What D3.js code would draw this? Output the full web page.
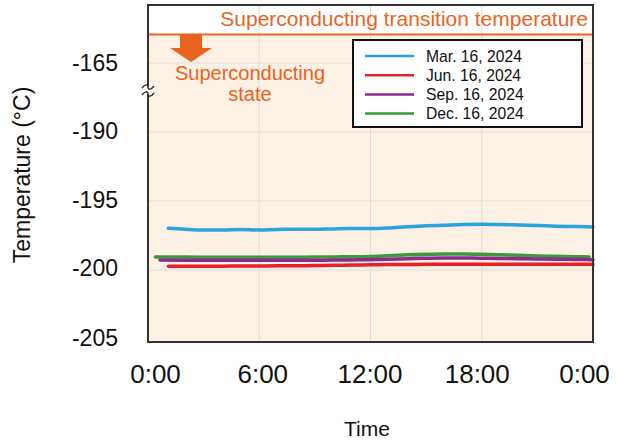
<!DOCTYPE html>
<html><head><meta charset="utf-8">
<script src="https://cdn.jsdelivr.net/npm/d3@7"></script>
<style>
html,body{margin:0;padding:0;background:#fff;}
text{font-family:"Liberation Sans",Arial,sans-serif;}
</style></head>
<body><svg id="c" width="619" height="441"></svg>
<script>
// ---- data ----
const xTickValues = [0, 6, 12, 18, 24];
const xTickLabels = ["0:00", "6:00", "12:00", "18:00", "0:00"];
const yTickValues = [-205, -200, -195, -190, -165];
const transitionTemp = -154.7;
const seriesNames = ["Mar. 16, 2024", "Jun. 16, 2024", "Sep. 16, 2024", "Dec. 16, 2024"];
const seriesColors = ["#2aa3de", "#e62129", "#8c2b8e", "#3a9a3c"];

const hoursMar = [1.1, 2, 3, 4, 5, 6, 7, 8, 9, 10, 11, 12, 13, 14, 15, 16, 17, 18, 19, 20, 21, 22, 23, 24];
const tempMar  = [-196.98, -197.05, -197.1, -197.1, -197.06, -197.1, -197.06, -197.05, -197.05, -197.02, -197.0, -197.0, -196.95, -196.86, -196.8, -196.75, -196.7, -196.68, -196.7, -196.74, -196.78, -196.83, -196.85, -196.88];

const hoursJun = [1.1, 2, 3, 4, 5, 6, 7, 8, 9, 10, 11, 12, 13, 14, 15, 16, 17, 18, 19, 20, 21, 22, 23, 24];
const tempJun  = [-199.72, -199.72, -199.72, -199.72, -199.71, -199.71, -199.7, -199.69, -199.68, -199.66, -199.64, -199.62, -199.6, -199.6, -199.59, -199.58, -199.58, -199.58, -199.58, -199.58, -199.58, -199.58, -199.58, -199.58];

const hoursSep = [0.65, 2, 3, 4, 5, 6, 7, 8, 9, 10, 11, 12, 13, 14, 15, 16, 17, 18, 19, 20, 21, 22, 23, 24];
const tempSep  = [-199.28, -199.29, -199.3, -199.3, -199.3, -199.3, -199.3, -199.3, -199.29, -199.28, -199.27, -199.25, -199.22, -199.18, -199.15, -199.13, -199.13, -199.14, -199.16, -199.18, -199.2, -199.22, -199.24, -199.25];

const hoursDec = [0.4, 2, 3, 4, 5, 6, 7, 8, 9, 10, 11, 12, 13, 14, 15, 16, 17, 18, 19, 20, 21, 22, 23, 23.8];
const tempDec  = [-199.05, -199.06, -199.07, -199.07, -199.07, -199.07, -199.07, -199.07, -199.06, -199.05, -199.04, -199.02, -198.97, -198.9, -198.86, -198.84, -198.84, -198.86, -198.9, -198.94, -198.98, -199.01, -199.04, -199.05];

const seriesHours = [hoursMar, hoursJun, hoursSep, hoursDec];
const seriesTemps = [tempMar, tempJun, tempSep, tempDec];

// ---- layout ----
const svg = d3.select("#c");
const L = 148, R = 593, T = 5, B = 342;
const orange = "#e8641f";

const x = d3.scaleLinear().domain([0, 24]).range([L, R]);
// tick labels in the original sit slightly inside the frame ends
const xLab = d3.scaleLinear().domain([0, 24]).range([155, 584]);
// broken axis: piecewise scale
const y = d3.scaleLinear().domain([-205, -200, -195, -190, -165, -144]).range([B, 270, 201, 132, 63, T]);
// tick label positions (the bottom label sits a little above the frame)
const yLab = d3.scaleLinear().domain([-205, -200, -195, -190, -165]).range([338, 268, 200, 131, 63]);

// backgrounds
svg.append("rect").attr("x", L).attr("y", T).attr("width", R - L).attr("height", y(transitionTemp) - T).attr("fill", "#ffffff");
svg.append("rect").attr("x", L).attr("y", y(transitionTemp)).attr("width", R - L).attr("height", B - y(transitionTemp)).attr("fill", "#fdf0e4");

// gridlines
const g = svg.append("g");
g.selectAll("line.h").data(yTickValues.filter(v => v !== -205)).join("line")
  .attr("x1", L).attr("x2", R).attr("y1", d => y(d)).attr("y2", d => y(d))
  .attr("stroke", "#e2dcd6").attr("stroke-width", 1);
g.selectAll("line.v").data(xTickValues.slice(1, -1)).join("line")
  .attr("x1", d => x(d)).attr("x2", d => x(d)).attr("y1", T).attr("y2", B)
  .attr("stroke", "#e2dcd6").attr("stroke-width", 1);

// transition line
svg.append("line").attr("x1", L).attr("x2", R).attr("y1", y(transitionTemp)).attr("y2", y(transitionTemp))
  .attr("stroke", orange).attr("stroke-width", 2);
svg.append("text").attr("x", 588).attr("y", 26).attr("text-anchor", "end")
  .attr("font-size", 21).attr("fill", orange).text("Superconducting transition temperature");

// arrow
const ay = y(transitionTemp);
svg.append("path")
  .attr("d", `M180,${ay} L202,${ay} L202,48 L212,48 L191,62 L170,48 L180,48 Z`)
  .attr("fill", orange);
svg.append("text").attr("x", 250).attr("y", 80).attr("text-anchor", "middle")
  .attr("font-size", 20).attr("fill", orange).text("Superconducting");
svg.append("text").attr("x", 250).attr("y", 101).attr("text-anchor", "middle")
  .attr("font-size", 20).attr("fill", orange).text("state");

// lines
const line = d3.line().x(d => x(d[0])).y(d => y(d[1])).curve(d3.curveMonotoneX);
const order = [3, 2, 1, 0];
order.forEach(i => {
  const pts = seriesHours[i].map((h, k) => [h, seriesTemps[i][k]]);
  svg.append("path").datum(pts).attr("d", line).attr("fill", "none")
    .attr("stroke", seriesColors[i]).attr("stroke-width", 3.5).attr("stroke-linecap", "round");
});

// frame
svg.append("rect").attr("x", L).attr("y", T).attr("width", R - L).attr("height", B - T)
  .attr("fill", "none").attr("stroke", "#333").attr("stroke-width", 2);

// break symbol on y-axis
svg.append("rect").attr("x", L - 4).attr("y", 87).attr("width", 8).attr("height", 7).attr("fill", "#fff");
[87, 94].forEach(yy => {
  svg.append("path")
    .attr("d", `M${L - 6},${yy + 1} C${L - 3},${yy - 3} ${L},${yy - 3} ${L},${yy} S${L + 3},${yy + 3} ${L + 6},${yy - 1}`)
    .attr("fill", "none").attr("stroke", "#333").attr("stroke-width", 1.5);
});

// axes
const yAxis = d3.axisLeft(yLab).tickValues(yTickValues).tickSize(0).tickPadding(0).tickFormat(d => String(d));
const ya = svg.append("g").attr("transform", `translate(118,0)`).call(yAxis);
ya.select(".domain").remove();
ya.selectAll("text").attr("font-size", 23).attr("fill", "#111").attr("font-family", "Liberation Sans, Arial, sans-serif").attr("dy", "0.34em");

const xAxis = d3.axisBottom(xLab).tickValues(xTickValues).tickSize(0).tickPadding(0).tickFormat((d, i) => xTickLabels[i]);
const xa = svg.append("g").attr("transform", `translate(0,364)`).call(xAxis);
xa.select(".domain").remove();
xa.selectAll("text").attr("font-size", 26).attr("fill", "#111").attr("font-family", "Liberation Sans, Arial, sans-serif").attr("dy", "0.72em");

// axis titles
svg.append("text").attr("x", 367).attr("y", 436).attr("text-anchor", "middle")
  .attr("font-size", 21).attr("fill", "#111").text("Time");
svg.append("text").attr("transform", "translate(30,175) rotate(-90)").attr("text-anchor", "middle")
  .attr("font-size", 23).attr("fill", "#111").text("Temperature (°C)");

// legend
const lg = svg.append("g");
lg.append("rect").attr("x", 353).attr("y", 40).attr("width", 229).attr("height", 87)
  .attr("fill", "#fff").attr("stroke", "#111").attr("stroke-width", 2);
seriesNames.forEach((n, i) => {
  const cy = 56 + i * 19.2;
  lg.append("line").attr("x1", 365).attr("x2", 414).attr("y1", cy).attr("y2", cy)
    .attr("stroke", seriesColors[i]).attr("stroke-width", 2.5);
  lg.append("text").attr("x", 426).attr("y", cy).attr("dy", "0.36em")
    .attr("font-size", 15.7).attr("fill", "#111").text(n);
});
</script></body></html>
